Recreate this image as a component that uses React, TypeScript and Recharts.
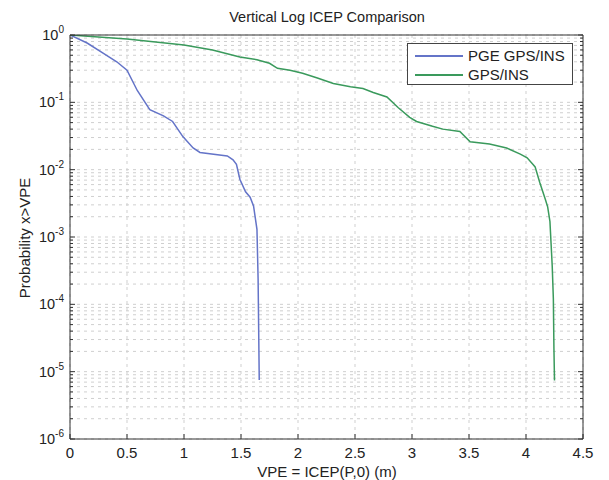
import React from 'react';
import { LineChart, Line, XAxis, YAxis, CartesianGrid, Legend, Customized } from 'recharts';

const pgeGpsIns = [
  { x: 0, p: 1 }, { x: 0.15, p: 0.76 }, { x: 0.29, p: 0.54 }, { x: 0.41, p: 0.4 },
  { x: 0.5, p: 0.3 }, { x: 0.59, p: 0.15 }, { x: 0.7, p: 0.078 }, { x: 0.82, p: 0.063 },
  { x: 0.9, p: 0.052 }, { x: 0.99, p: 0.031 }, { x: 1.08, p: 0.021 }, { x: 1.14, p: 0.018 },
  { x: 1.38, p: 0.016 }, { x: 1.43, p: 0.014 }, { x: 1.46, p: 0.012 }, { x: 1.49, p: 0.0072 },
  { x: 1.54, p: 0.0047 }, { x: 1.58, p: 0.0039 }, { x: 1.61, p: 0.0029 }, { x: 1.64, p: 0.0013 },
  { x: 1.65, p: 0.00024 }, { x: 1.66, p: 0.0000075 },
];

const gpsIns = [
  { x: 0, p: 1 }, { x: 0.5, p: 0.87 }, { x: 1.0, p: 0.71 }, { x: 1.25, p: 0.6 },
  { x: 1.49, p: 0.47 }, { x: 1.64, p: 0.43 }, { x: 1.75, p: 0.38 }, { x: 1.82, p: 0.32 },
  { x: 1.93, p: 0.3 }, { x: 2.04, p: 0.27 }, { x: 2.17, p: 0.23 }, { x: 2.31, p: 0.19 },
  { x: 2.46, p: 0.17 }, { x: 2.57, p: 0.16 }, { x: 2.66, p: 0.14 }, { x: 2.78, p: 0.12 },
  { x: 2.88, p: 0.083 }, { x: 2.98, p: 0.06 }, { x: 3.04, p: 0.052 }, { x: 3.18, p: 0.044 },
  { x: 3.27, p: 0.04 }, { x: 3.42, p: 0.037 }, { x: 3.51, p: 0.026 }, { x: 3.68, p: 0.024 },
  { x: 3.83, p: 0.021 }, { x: 3.95, p: 0.017 }, { x: 4.01, p: 0.015 }, { x: 4.06, p: 0.012 },
  { x: 4.08, p: 0.011 }, { x: 4.12, p: 0.0065 }, { x: 4.17, p: 0.0036 }, { x: 4.19, p: 0.0028 },
  { x: 4.21, p: 0.0017 }, { x: 4.23, p: 0.00037 }, { x: 4.24, p: 0.00012 }, { x: 4.245, p: 0.000022 },
  { x: 4.25, p: 0.0000074 },
];

const seriesNames = ['PGE GPS/INS', 'GPS/INS'];
const xTicks = [0, 0.5, 1, 1.5, 2, 2.5, 3, 3.5, 4, 4.5];
const decadeTicks = [1e-6, 1e-5, 1e-4, 1e-3, 1e-2, 1e-1, 1];
const minorMultipliers = [2, 3, 4, 5, 6, 7, 8, 9];
const yTicks: number[] = [];
decadeTicks.forEach((d, i) => {
  yTicks.push(d);
  if (i < decadeTicks.length - 1) minorMultipliers.forEach((m) => yTicks.push(m * d));
});

const TITLE = 'Vertical Log ICEP Comparison';
const X_LABEL = 'VPE = ICEP(P,0) (m)';
const Y_LABEL = 'Probability x>VPE';
const BLUE = '#6474c8';
const GREEN = '#3a9a5c';
const AXIS = '#333';
const FONT = 'Liberation Sans, Arial, sans-serif';

const isDecade = (v: number) => decadeTicks.some((d) => Math.abs(d - v) < d * 1e-6);

const YLeftTick = (props: any) => {
  const { x, y, payload } = props;
  const v = payload.value;
  const dec = isDecade(v);
  const exp = Math.round(Math.log10(v));
  return (
    <g>
      <line x1={x} x2={x + (dec ? 5 : 3)} y1={y} y2={y} stroke={AXIS} strokeWidth={1} />
      {dec && (
        <text x={x - 6} y={y + 5} textAnchor="end" fontSize={14.5} fill="#222" fontFamily={FONT}>
          <tspan>10</tspan>
          <tspan dy={-7} fontSize={10}>{String(exp)}</tspan>
        </text>
      )}
    </g>
  );
};

const YRightTick = (props: any) => {
  const { x, y, payload } = props;
  const dec = isDecade(payload.value);
  return <line x1={x} x2={x - (dec ? 5 : 3)} y1={y} y2={y} stroke={AXIS} strokeWidth={1} />;
};

const XBottomTick = (props: any) => {
  const { x, y, payload } = props;
  return (
    <g>
      <line x1={x} x2={x} y1={y} y2={y - 5} stroke={AXIS} strokeWidth={1} />
      <text x={x} y={y + 19} textAnchor="middle" fontSize={15} fill="#222" fontFamily={FONT}>
        {String(payload.value)}
      </text>
    </g>
  );
};

const XTopTick = (props: any) => {
  const { x, y } = props;
  return <line x1={x} x2={x} y1={y} y2={y + 5} stroke={AXIS} strokeWidth={1} />;
};

const LegendBox = (props: any) => {
  const { payload } = props;
  const items = seriesNames
    .map((n) => (payload || []).find((it: any) => it.value === n))
    .filter(Boolean);
  return (
    <div
      style={{
        width: 166,
        height: 42,
        boxSizing: 'border-box',
        border: '1px solid #444',
        background: '#fff',
        fontFamily: FONT,
        fontSize: 15,
        color: '#222',
        paddingTop: 2,
      }}
    >
      {items.map((item: any) => (
        <div key={item.value} style={{ display: 'flex', alignItems: 'center', height: 19 }}>
          <div style={{ width: 48, height: 2, background: item.color, marginLeft: 7, marginRight: 5 }} />
          <span>{item.value}</span>
        </div>
      ))}
    </div>
  );
};

const Texts = () => (
  <g fontFamily={FONT} fill="#222">
    <text x={327} y={22} textAnchor="middle" fontSize={14.5}>{TITLE}</text>
    <text x={327} y={477} textAnchor="middle" fontSize={15}>{X_LABEL}</text>
    <text
      x={24}
      y={238}
      textAnchor="middle"
      dominantBaseline="central"
      fontSize={15}
      transform="rotate(-90, 24, 238)"
    >
      {Y_LABEL}
    </text>
  </g>
);

export default function App() {
  return (
    <div style={{ position: 'absolute', left: 0, top: 0, width: 609, height: 480, background: '#fff' }}>
      <LineChart
        width={609}
        height={480}
        margin={{ top: 34, right: 25, bottom: 10, left: 10 }}
        style={{ background: '#fff' }}
      >
        <CartesianGrid stroke="#cfcfcf" strokeDasharray="3 4" strokeWidth={1} />
        <XAxis
          dataKey="x"
          type="number"
          domain={[0, 4.5]}
          ticks={xTicks}
          interval={0}
          allowDataOverflow
          height={31}
          tickSize={0}
          tickMargin={0}
          tickLine={false}
          axisLine={{ stroke: AXIS }}
          tick={XBottomTick}
        />
        <XAxis
          xAxisId="top"
          orientation="top"
          type="number"
          domain={[0, 4.5]}
          ticks={xTicks}
          interval={0}
          allowDataOverflow
          height={1}
          tickSize={0}
          tickMargin={0}
          tickLine={false}
          axisLine={{ stroke: AXIS }}
          tick={XTopTick}
        />
        <YAxis
          type="number"
          scale="log"
          domain={[1e-6, 1]}
          ticks={yTicks}
          interval={0}
          allowDataOverflow
          width={60}
          tickSize={0}
          tickMargin={0}
          tickLine={false}
          axisLine={{ stroke: AXIS }}
          tick={YLeftTick}
        />
        <YAxis
          yAxisId="right"
          orientation="right"
          type="number"
          scale="log"
          domain={[1e-6, 1]}
          ticks={yTicks}
          interval={0}
          allowDataOverflow
          width={1}
          tickSize={0}
          tickMargin={0}
          tickLine={false}
          axisLine={{ stroke: AXIS }}
          tick={YRightTick}
        />
        <Line
          data={pgeGpsIns}
          dataKey="p"
          name={seriesNames[0]}
          type="linear"
          stroke={BLUE}
          strokeWidth={1.5}
          dot={false}
          isAnimationActive={false}
        />
        <Line
          data={gpsIns}
          dataKey="p"
          name={seriesNames[1]}
          type="linear"
          stroke={GREEN}
          strokeWidth={1.5}
          dot={false}
          isAnimationActive={false}
        />
        <Legend
          layout="horizontal"
          verticalAlign="middle"
          align="center"
          content={LegendBox}
          wrapperStyle={{ position: 'absolute', left: 407, top: 43, width: 166, height: 42 }}
        />
        <Customized component={Texts} />
      </LineChart>
    </div>
  );
}
